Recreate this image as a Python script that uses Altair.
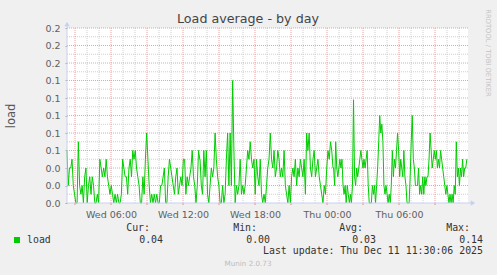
import altair as alt
import pandas as pd
import numpy as np

# ---------------- data ----------------
# load values, three consecutive stretches of the day graph
seg1_load = [0.06, 0.02, 0.04, 0.04, 0.05, 0.02, 0.01, 0, 0, 0.07, 0.02, 0.01, 0.02, 0, 0.03, 0.04, 0,
             0.02, 0.03, 0.01, 0.03, 0.02, 0, 0, 0.01, 0, 0.05, 0.04, 0.03, 0.04, 0.03, 0.05, 0.03, 0.02,
             0.01, 0.02, 0.01, 0, 0.01, 0, 0.01, 0, 0, 0.01, 0.05, 0.04, 0.03, 0.03, 0.01, 0.04, 0.05, 0.03,
             0.06, 0.05, 0.06, 0.04, 0.03, 0.02, 0, 0, 0.03, 0.01, 0.05, 0.08, 0.05, 0.02, 0, 0.01, 0, 0.01,
             0, 0.01, 0, 0, 0.02, 0.02, 0.03, 0.04, 0, 0, 0.03, 0.05, 0.04, 0.03, 0.02, 0.01, 0.03, 0.04,
             0.01, 0.02, 0.03, 0.02, 0.05, 0.05, 0.01, 0.03, 0.02, 0.03, 0.04, 0.06, 0.03, 0.02, 0, 0.02,
             0.06, 0.05]
seg2_load = [0.05, 0.02, 0.01, 0.06, 0.03, 0.06, 0.01, 0, 0.02, 0.04, 0.03, 0.04, 0.08, 0.05, 0.03, 0.02,
             0, 0, 0.02, 0, 0.01, 0.05, 0.08, 0.02, 0.08, 0.02, 0.14, 0.06, 0, 0.02, 0.01, 0.02, 0.05, 0.01,
             0.02, 0.01, 0.02, 0.04, 0.06, 0.05, 0.07, 0.05, 0.04, 0.05, 0.01, 0.05, 0.03, 0.02, 0.05, 0.01,
             0, 0.01, 0, 0.02, 0.04, 0.05, 0.08, 0.05, 0.04, 0.06, 0.03, 0.04, 0.06, 0.05, 0.03, 0.04, 0.03,
             0.06, 0.02, 0.01, 0, 0.02, 0, 0.03, 0.04, 0.03, 0.05, 0.02, 0.04, 0.03, 0.05, 0.04, 0.03, 0.05,
             0.01, 0.08, 0.06, 0.08, 0.04, 0.03, 0.05, 0.06, 0.03, 0.04, 0.05, 0.03, 0.02, 0.01, 0, 0.02,
             0.01, 0.04, 0.06, 0.05, 0.07, 0.06, 0.04]
seg3_load = [0.04, 0.02, 0.07, 0.04, 0.03, 0.04, 0.05, 0.04, 0.05, 0.02, 0.01, 0.02, 0, 0.02, 0.01, 0,
             0.01, 0, 0.02, 0.118, 0.03, 0.02, 0.04, 0.03, 0.04, 0.05, 0.06, 0.05, 0.04, 0.05, 0.04, 0.05,
             0.06, 0.02, 0, 0, 0, 0.02, 0.01, 0.02, 0, 0.02, 0.04, 0.07, 0.10, 0.08, 0.09, 0.07, 0.02, 0.01,
             0.02, 0.01, 0, 0.01, 0, 0.02, 0.06, 0.03, 0.05, 0.04, 0.06, 0.08, 0.06, 0.03, 0.05, 0.04, 0.03,
             0.06, 0.03, 0.02, 0, 0, 0, 0.03, 0.07, 0.10, 0.05, 0.04, 0.02, 0.02, 0.02, 0.04, 0.01, 0.02,
             0.01, 0.03, 0.01, 0.03, 0.02, 0.03, 0.03, 0.05, 0.08, 0.06, 0.04, 0.05, 0.06, 0.05, 0.06, 0.04,
             0.05, 0.04, 0.06, 0.05, 0.04, 0.03, 0.02, 0.01, 0.02, 0.01, 0, 0.01, 0, 0.01, 0, 0.02, 0.01,
             0.07, 0.03, 0.04, 0.02, 0.04, 0.03, 0.05, 0.03, 0.04, 0.04, 0.05]
# time span of each stretch, hours since Wed 00:00
seg_spans = [(2.33, 13.40), (13.42, 24.50), (24.55, 35.65)]

x_domain = [2.333, 35.75]          # 33h20m day graph ending Thu 11:30
y_domain = [0, 0.2]
xtick_hours = [6, 12, 18, 24, 30]
xtick_labels = ["Wed 06:00", "Wed 12:00", "Wed 18:00", "Thu 00:00", "Thu 06:00"]
ytick_values = [0, 0.02, 0.04, 0.06, 0.08, 0.10, 0.12, 0.14, 0.16, 0.18, 0.20]
minor_v = [h for h in range(3, 36) if h % 3 != 0]
major_v = [h for h in range(3, 36) if h % 3 == 0]
minor_h = [0.01, 0.03, 0.05, 0.07, 0.09, 0.11, 0.13, 0.15, 0.17, 0.19]
major_h = [0.02, 0.04, 0.06, 0.08, 0.10, 0.12, 0.14, 0.16, 0.18, 0.20]

series_name = "load"
stat_names = ["Cur:", "Min:", "Avg:", "Max:"]
stat_values = ["0.04", "0.00", "0.03", "0.14"]
title_text = "Load average - by day"
update_text = "Last update: Thu Dec 11 11:30:06 2025"
footer_text = "Munin 2.0.73"
side_text = "RRDTOOL / TOBI OETIKER"

# ---------------- build table ----------------
rows = []
for vals, (a, b) in zip([seg1_load, seg2_load, seg3_load], seg_spans):
    ts = np.linspace(a, b, len(vals))
    rows += [{"t": float(t), "load": v} for t, v in zip(ts, vals)]
df = pd.DataFrame(rows)

W, H = 401, 175
FONT = "DejaVu Sans"
MONO = "DejaVu Sans Mono"
LINE = "#00cc00"
AXIS = "#c8d0f0"

xs = alt.Scale(domain=x_domain, nice=False, zero=False)
ys = alt.Scale(domain=y_domain, nice=False, zero=False)

label_expr = " : ".join(
    f"datum.value == {h} ? '{l}'" for h, l in zip(xtick_hours, xtick_labels)
) + " : ''"

XAX = alt.Axis(values=xtick_hours, labelExpr=label_expr, title=None, grid=False, domain=False,
               ticks=False, labelFont=FONT, labelFontSize=9.5, labelColor="#606060",
               labelPadding=6, labelBaseline="top")
YAX = alt.Axis(values=ytick_values, format=".1f", title=series_name, grid=False, domain=False,
               ticks=True, tickSize=2, tickColor="#aaaaaa", labelFont=FONT, labelFontSize=9.5,
               labelColor="#606060", labelPadding=5, titleFont=FONT, titleFontSize=11.5,
               titleFontWeight="normal", titleColor="#555555", titlePadding=28)


def vrules(vals, color, dash):
    return alt.Chart(pd.DataFrame({"t": vals})).mark_rule(
        color=color, strokeWidth=1, strokeDash=dash
    ).encode(x=alt.X("t:Q", scale=xs, axis=XAX))


def hrules(vals, color, dash):
    return alt.Chart(pd.DataFrame({"load": vals})).mark_rule(
        color=color, strokeWidth=1, strokeDash=dash
    ).encode(y=alt.Y("load:Q", scale=ys, axis=YAX))


def txt(s, x, y, size=10, font=FONT, color="#555555", align="left", angle=0, baseline="middle"):
    props = dict(text=s, fontSize=size, font=font, color=color, align=align, baseline=baseline)
    if angle:
        props["angle"] = angle
    return alt.Chart(pd.DataFrame({"s": [s]})).mark_text(**props).encode(
        x=alt.value(x), y=alt.value(y)
    )


line = alt.Chart(df).mark_line(color=LINE, strokeWidth=1, interpolate="linear").encode(
    x=alt.X("t:Q", scale=xs, axis=XAX),
    y=alt.Y("load:Q", scale=ys, axis=YAX),
)

minor_grid = vrules(minor_v, "#cfcfcf", [1, 1]) + hrules(minor_h, "#cfcfcf", [1, 1])
major_grid = vrules(major_v, "#e8a4a4", [1, 1]) + hrules(major_h, "#e8a4a4", [1, 1])

red_ticks = alt.Chart(pd.DataFrame({"t": major_v})).mark_rule(color="#e08c8c", strokeWidth=1).encode(
    x=alt.X("t:Q", scale=xs, axis=XAX), y=alt.value(H), y2=alt.value(H + 2)
)

# axis lines with arrows
y_axis_line = alt.Chart(pd.DataFrame({"a": [0]})).mark_rule(color=AXIS, strokeWidth=1).encode(
    x=alt.value(0), y=alt.value(-4), y2=alt.value(H)
)
x_axis_line = alt.Chart(pd.DataFrame({"a": [0]})).mark_rule(color=AXIS, strokeWidth=1).encode(
    x=alt.value(0), x2=alt.value(W + 4), y=alt.value(H)
)
up_arrow = alt.Chart(pd.DataFrame({"a": [0]})).mark_point(
    shape="triangle-up", filled=True, color=AXIS, size=28, opacity=1
).encode(x=alt.value(0), y=alt.value(-4))
right_arrow = alt.Chart(pd.DataFrame({"a": [0]})).mark_point(
    shape="triangle-right", filled=True, color=AXIS, size=28, opacity=1
).encode(x=alt.value(W + 5), y=alt.value(H))

# texts (positions relative to plot origin at 67,28)
texts = [
    txt(title_text, 181, -9, size=12.7, color="#444444", align="center"),
    txt(side_text, 421, 25, size=6.8, color="#c4c4c4", align="center", angle=90),
    txt(footer_text, 181, 236, size=7.2, color="#bdbdbd", align="center"),
    txt(series_name, -40, 211.5, size=9.9, font=MONO, color="#333333"),
    txt(update_text, 416, 223, size=9.9, font=MONO, color="#333333", align="right"),
]
stat_right = [83, 190, 296, 403]
for name, val, r in zip(stat_names, stat_values, stat_right):
    texts.append(txt(name, r, 200, size=9.9, font=MONO, color="#333333", align="right"))
    texts.append(txt(val, r + 13, 211.5, size=9.9, font=MONO, color="#333333", align="right"))

legend_box = alt.Chart(pd.DataFrame({"a": [0]})).mark_rect(color=LINE).encode(
    x=alt.value(-53), x2=alt.value(-47), y=alt.value(209), y2=alt.value(215)
)

chart = alt.layer(
    minor_grid, major_grid, red_ticks, line, y_axis_line, x_axis_line, up_arrow, right_arrow,
    legend_box, *texts
).properties(
    width=W, height=H,
    autosize=alt.AutoSizeParams(type="none"),
    padding={"left": 67, "top": 28, "right": 29, "bottom": 72},
    background="#f0f0f0",
).configure_view(fill="white", stroke=None)

chart.save("out.html", embed_options={"renderer": "svg", "actions": False})
